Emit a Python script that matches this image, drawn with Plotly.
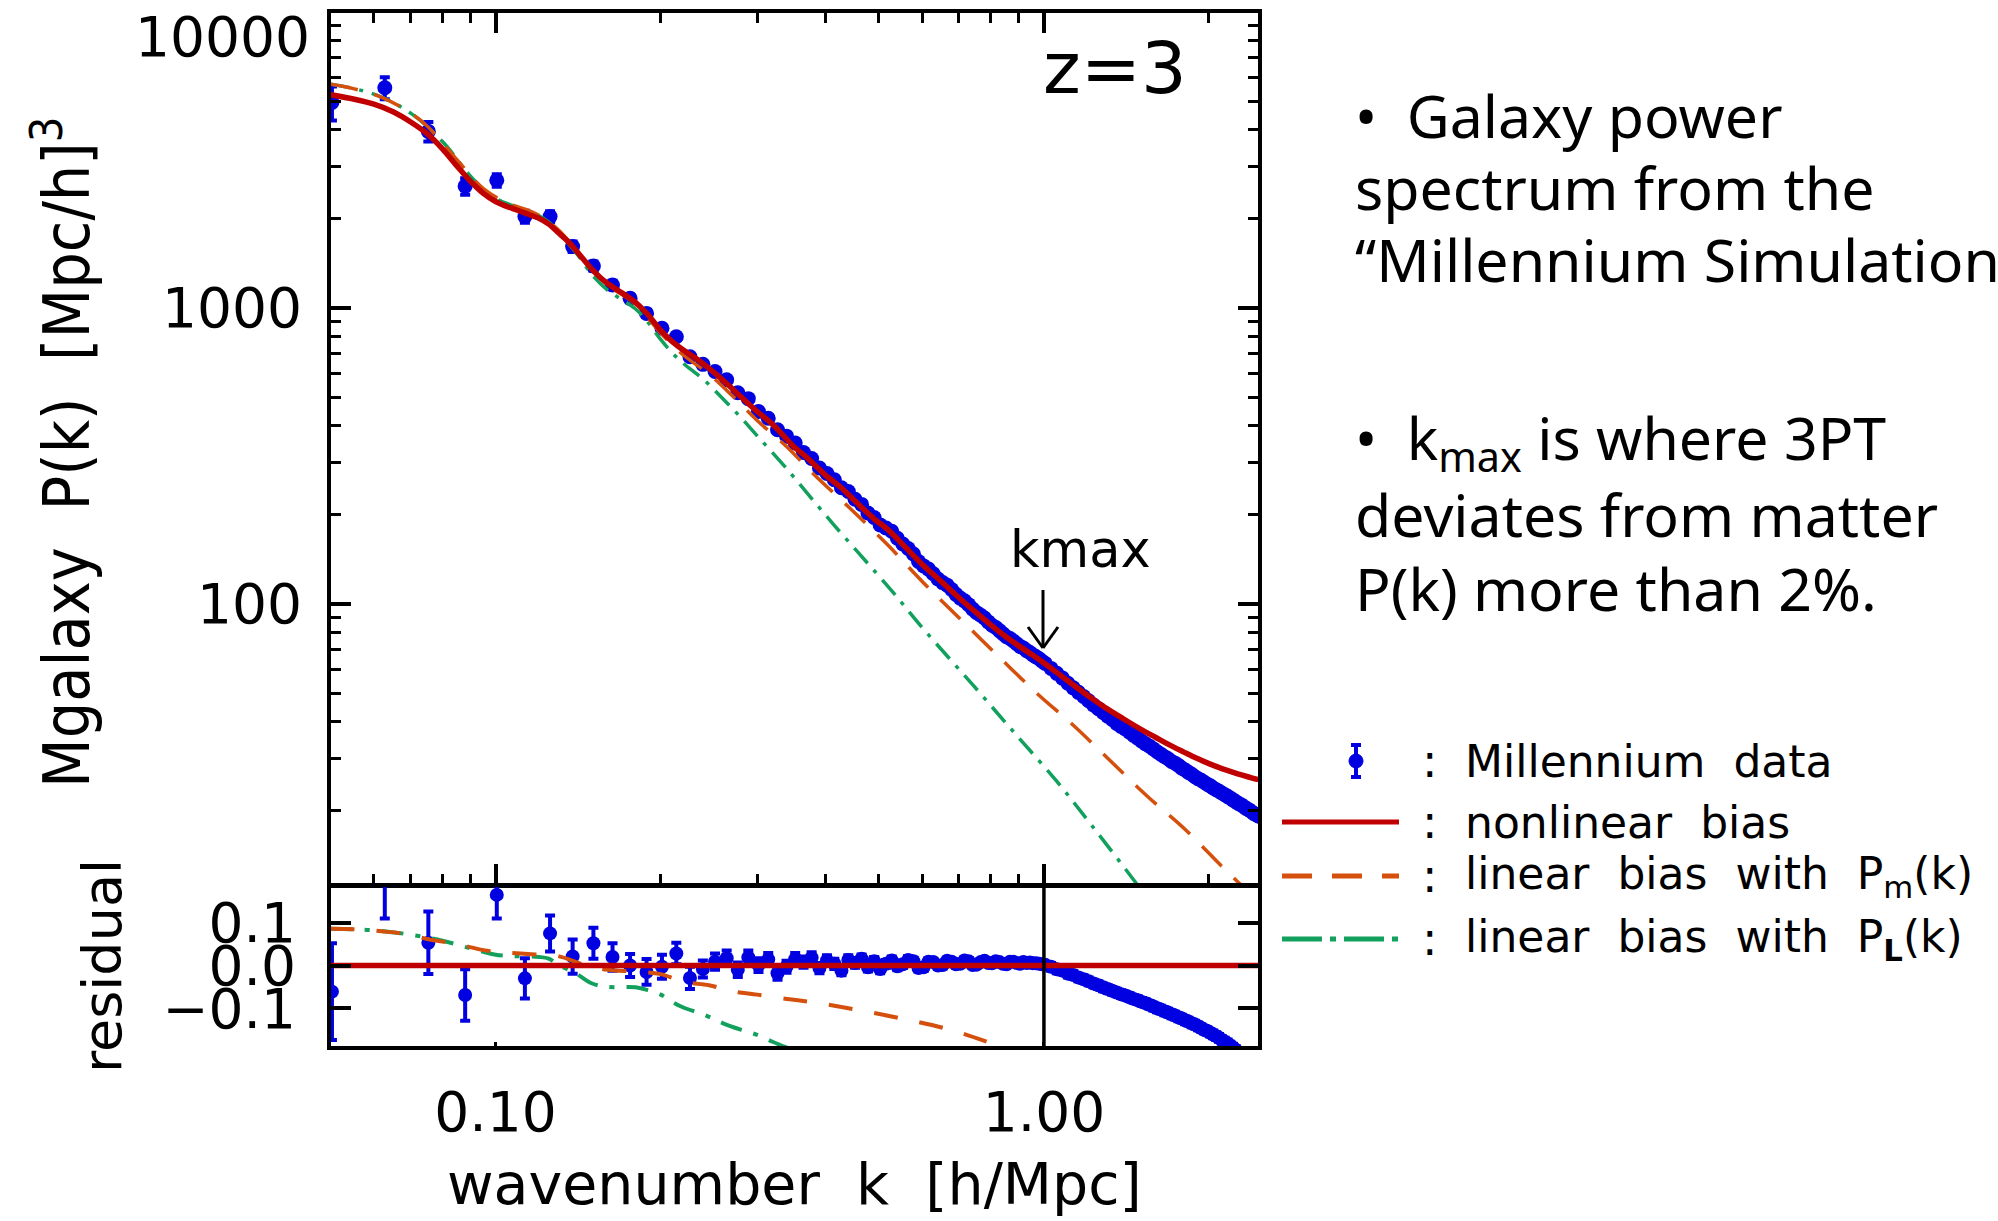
import math
import plotly.graph_objects as go

# ---------------- data ----------------
# Millennium galaxy power spectrum bins, k in h/Mpc
K_DATA = [
    0.0503, 0.0628, 0.0754, 0.0880, 0.1005, 0.1131, 0.1257, 0.1382, 0.1508, 0.1634,
    0.1759, 0.1885, 0.2011, 0.2136, 0.2262, 0.2388, 0.2513, 0.2639, 0.2765, 0.2890,
    0.3016, 0.3142, 0.3267, 0.3393, 0.3519, 0.3644, 0.3770, 0.3896, 0.4021, 0.4147,
    0.4273, 0.4398, 0.4524, 0.4650, 0.4775, 0.4901, 0.5027,
    0.5152, 0.5278, 0.5404, 0.5529, 0.5655, 0.5781, 0.5906, 0.6032, 0.6158, 0.6283,
    0.6409, 0.6535, 0.6660, 0.6786, 0.6912, 0.7037, 0.7163, 0.7288, 0.7414, 0.7540,
    0.7665, 0.7791, 0.7917, 0.8042, 0.8168, 0.8294, 0.8419, 0.8545, 0.8671, 0.8796,
    0.8922, 0.9048, 0.9173, 0.9299, 0.9425, 0.9550, 0.9676, 0.9802, 0.9927, 1.0053,
    1.0304, 1.0556, 1.0807, 1.1058, 1.1310, 1.1561, 1.1812, 1.2064, 1.2315, 1.2566,
    1.2818, 1.3069, 1.3320, 1.3572, 1.3823, 1.4074, 1.4326, 1.4577, 1.4828, 1.5080,
    1.5331, 1.5582, 1.5834, 1.6085, 1.6336, 1.6588, 1.6839, 1.7090, 1.7342, 1.7593,
    1.7844, 1.8096, 1.8347, 1.8598, 1.8850, 1.9101, 1.9352, 1.9604, 1.9855, 2.0106,
    2.0358, 2.0609, 2.0860, 2.1112, 2.1363, 2.1614, 2.1866, 2.2117, 2.2368, 2.2619,
    2.2871, 2.3122, 2.3373, 2.3625, 2.3876, 2.4127, 2.4379, 2.4630,
]
P_DATA = [
    4950, 5550, 3950, 2580, 2700, 2036, 2036, 1612, 1386, 1196,
    1078, 959, 854, 800, 684, 645, 610, 572, 517, 494,
    447, 424, 388, 369, 350, 325, 310, 288, 276, 263,
    247, 240, 226, 217, 203, 196, 185,
    180.7, 176.1, 166.7, 159.5, 154.0, 147.5, 139.2, 134.5, 131.2, 126.5,
    121.5, 118.1, 115.8, 112.0, 107.8, 104.7, 102.5, 99.5, 96.1, 93.5,
    91.7, 89.7, 87.0, 84.8, 83.3, 81.3, 79.3, 77.5, 76.5, 75.0,
    73.4, 71.9, 71.0, 69.6, 68.6, 67.3, 66.3, 65.3, 64.1, 63.0,
    60.6, 58.3, 56.2, 54.0, 52.1, 50.3, 48.7, 47.1, 45.6, 44.3,
    43.0, 41.8, 40.7, 39.5, 38.6, 37.8, 36.9, 36.0, 35.2, 34.4,
    33.7, 33.1, 32.4, 31.7, 31.1, 30.5, 30.0, 29.4, 29.0, 28.5,
    27.9, 27.5, 27.0, 26.6, 26.1, 25.7, 25.4, 25.0, 24.6, 24.3,
    23.9, 23.6, 23.3, 23.0, 22.7, 22.4, 22.1, 21.8, 21.5, 21.2,
    21.0, 20.7, 20.4, 20.2, 19.9, 19.6, 19.4, 19.2,
]
P_ERR = [
    650, 475, 300, 165, 130, 95, 85, 65, 50, 40,
    32, 27, 23, 20, 17, 12.9, 11.6, 10.3, 8.8, 7.9,
    7.2, 6.4, 5.8, 5.2, 4.9, 4.2, 4.0, 3.5, 3.3, 3.2,
    2.7, 2.6, 2.5, 2.2, 2.0, 2.0, 1.9,
    1.6, 1.6, 1.5, 1.4, 1.4, 1.2, 1.1, 1.1, 1.0, 1.0,
    1.0, 0.9, 0.8, 0.8, 0.8, 0.7, 0.7, 0.7, 0.6, 0.6,
    0.6, 0.5, 0.5, 0.5, 0.5, 0.4, 0.4, 0.4, 0.4, 0.4,
    0.4, 0.4, 0.3, 0.3, 0.3, 0.3, 0.3, 0.3, 0.3, 0.3,
] + [0.6] * 10 + [0.45] * 15 + [0.32] * 15 + [0.24] * 18
# fractional residual of the data with respect to the nonlinear-bias model
RES_DATA = [
    -0.061, 0.210, 0.053, -0.069, 0.165, -0.030, 0.075, 0.021, 0.052, 0.020,
    0.000, -0.015, -0.003, 0.028, -0.029, -0.008, 0.009, 0.017, -0.010, 0.019,
    0.001, 0.014, -0.018, -0.003, 0.015, 0.008, 0.018, -0.006, 0.012, 0.004,
    -0.012, 0.013, 0.006, 0.016, -0.004, 0.010, -0.008,
    0.004, 0.012, -0.002, 0.003, 0.013, 0.010, -0.006, -0.004, 0.009, 0.008,
    0.000, 0.001, 0.011, 0.009, 0.003, 0.004, 0.012, 0.010, 0.001, 0.002,
    0.008, 0.011, 0.006, 0.005, 0.010, 0.008, 0.004, 0.003, 0.009, 0.009,
    0.006, 0.004, 0.008, 0.006, 0.007, 0.005, 0.005, 0.004, 0.003, 0.002,
    -0.003, -0.009, -0.012, -0.019, -0.022, -0.028, -0.032, -0.037, -0.042, -0.046,
    -0.051, -0.055, -0.059, -0.063, -0.067, -0.070, -0.074, -0.078, -0.081, -0.085,
    -0.088, -0.092, -0.096, -0.100, -0.103, -0.107, -0.110, -0.114, -0.117, -0.121,
    -0.124, -0.128, -0.131, -0.135, -0.138, -0.142, -0.146, -0.150, -0.153, -0.157,
    -0.161, -0.165, -0.169, -0.174, -0.178, -0.182, -0.187, -0.192, -0.197, -0.203,
    -0.208, -0.214, -0.219, -0.225, -0.230, -0.236, -0.241, -0.247,
]
RES_ERR = [
    0.113, 0.100, 0.073, 0.060, 0.055, 0.047, 0.042, 0.040, 0.036, 0.032,
    0.027, 0.030, 0.028, 0.025, 0.026, 0.020, 0.019, 0.018, 0.017, 0.016,
    0.016, 0.015, 0.015, 0.014, 0.014, 0.013, 0.013, 0.012, 0.012, 0.012,
    0.011, 0.011, 0.011, 0.010, 0.010, 0.010, 0.010,
    0.009, 0.009, 0.009, 0.009, 0.009, 0.008, 0.008, 0.008, 0.008, 0.008,
    0.008, 0.008, 0.007, 0.007, 0.007, 0.007, 0.007, 0.007, 0.006, 0.006,
    0.006, 0.006, 0.006, 0.006, 0.006, 0.005, 0.005, 0.005, 0.005, 0.005,
    0.005, 0.005, 0.004, 0.004, 0.004, 0.004, 0.004, 0.004, 0.004, 0.004,
] + [0.009] * 58

# nonlinear bias model
NL_K = [0.050, 0.055, 0.060, 0.065, 0.070, 0.075, 0.080, 0.085, 0.090, 0.095,
        0.100, 0.105, 0.110, 0.115, 0.120, 0.125, 0.130, 0.135, 0.140, 0.145,
        0.150, 0.155, 0.160, 0.165, 0.170, 0.175, 0.180, 0.185, 0.190, 0.195,
        0.200, 0.210, 0.220, 0.230, 0.240, 0.260, 0.280, 0.300, 0.320, 0.350,
        0.370, 0.400, 0.425, 0.450, 0.490, 0.520, 0.560, 0.600, 0.650, 0.700,
        0.750, 0.800, 0.850, 0.900, 0.950, 1.000, 1.100, 1.200, 1.300, 1.400,
        1.500, 1.600, 1.700, 1.800, 1.900, 2.000, 2.100, 2.200, 2.300, 2.400, 2.460]
NL_P = [5250, 5080, 4880, 4600, 4250, 3880, 3450, 3020, 2680, 2440,
        2290, 2200, 2135, 2070, 2010, 1920, 1800, 1690, 1570, 1452,
        1350, 1270, 1210, 1165, 1125, 1085, 1045, 995, 945, 890,
        840, 770, 721, 683, 645, 570, 502, 447, 405, 340,
        312, 272, 249, 225, 194, 178, 155, 136, 119, 105,
        94, 85, 77.8, 72.2, 67.5, 63.2, 55.4, 49.2, 44.4, 40.8,
        37.8, 35.4, 33.3, 31.6, 30.1, 28.9, 27.9, 27.1, 26.4, 25.8, 25.5]

# linear bias with the nonlinear matter spectrum P_m(k)
LBM_K = [0.050, 0.055, 0.062, 0.070, 0.075, 0.085, 0.095, 0.105, 0.118, 0.130,
         0.145, 0.160, 0.180, 0.200, 0.220, 0.245, 0.270, 0.300, 0.340, 0.380,
         0.440, 0.516, 0.604, 0.706, 0.828, 0.970, 1.130, 1.310, 1.540, 1.810,
         2.110, 2.270, 2.460]
LBM_P = [5700, 5510, 5150, 4555, 4120, 3170, 2530, 2265, 2090, 1840,
         1455, 1198, 1030, 823, 694, 598, 506, 417, 339, 275,
         213, 160, 117.6, 88.5, 66.3, 50.0, 39.0, 30.0, 22.5, 17.3,
         13.0, 11.4, 9.9]

# linear bias with the linear spectrum P_L(k)
LBL_K = [0.050, 0.060, 0.070, 0.080, 0.090, 0.095, 0.100, 0.108, 0.120, 0.125,
         0.130, 0.140, 0.150, 0.160, 0.180, 0.190, 0.200, 0.210, 0.220, 0.240,
         0.260, 0.279, 0.300, 0.337, 0.412, 0.526, 0.609, 0.742, 0.887, 1.055,
         1.227, 1.450, 1.600]
LBL_P = [5700, 5280, 4555, 3650, 2787, 2518, 2347, 2208, 2050, 1951,
         1804, 1542, 1293, 1150, 992, 890, 783, 705, 650, 571,
         493, 430, 370, 291, 187, 111.6, 80.6, 53.3, 36.4, 25.2,
         17.7, 11.85, 9.3]

# residuals of the two linear-bias models
LBM_RES_K = [0.050, 0.055, 0.062, 0.070, 0.075, 0.085, 0.095, 0.105, 0.118, 0.130,
             0.145, 0.160, 0.180, 0.200, 0.220, 0.245, 0.270, 0.300, 0.340, 0.380,
             0.440, 0.546, 0.674, 0.807, 0.900]
LBM_RES = [0.086, 0.085, 0.080, 0.072, 0.062, 0.050, 0.036, 0.030, 0.026, 0.022,
           0.002, -0.010, -0.014, -0.020, -0.038, -0.046, -0.060, -0.068, -0.078, -0.086,
           -0.100, -0.123, -0.150, -0.183, -0.205]
LBL_RES_K = [0.050, 0.060, 0.070, 0.080, 0.090, 0.095, 0.100, 0.108, 0.120, 0.125,
             0.130, 0.140, 0.150, 0.160, 0.180, 0.190, 0.200, 0.210, 0.220, 0.240,
             0.260, 0.280, 0.300, 0.320, 0.340]
LBL_RES = [0.086, 0.082, 0.072, 0.058, 0.040, 0.032, 0.025, 0.022, 0.020, 0.016,
           0.002, -0.018, -0.042, -0.050, -0.051, -0.058, -0.068, -0.085, -0.098, -0.115,
           -0.135, -0.150, -0.162, -0.178, -0.192]

K_RANGE = [0.0501, 2.457]
K_MAX = 1.0
X_TICKS = [0.1, 1.0]
X_TICK_TEXT = ["0.10", "1.00"]
X_MINOR = [0.06, 0.07, 0.08, 0.09, 0.2, 0.3, 0.4, 0.5, 0.6, 0.7, 0.8, 0.9, 2.0]
Y_TICKS = [100, 1000]
Y_TICK_TEXT = ["100", "1000"]
Y_MINOR = [20, 30, 40, 50, 60, 70, 80, 90,
           200, 300, 400, 500, 600, 700, 800, 900,
           2000, 3000, 4000, 5000, 6000, 7000, 8000, 9000]
RES_TICKS = [-0.1, 0.0, 0.1]
RES_TICK_TEXT = ["\u22120.1", "0.0", "0.1"]
RES_RANGE = [-0.188, 0.1834]

# ---------------- styling ----------------
W, H = 1998, 1221
BLUE = "#0000E0"
RED = "#C00000"
ORANGE = "#D4500C"
GREEN = "#12A15C"
FONT = "DejaVu Sans"
TEXT_FONT = "Noto Sans"


def px(x):
    return x / W


def py(y):
    return 1 - y / H


LOGK = [math.log10(K_RANGE[0]), math.log10(K_RANGE[1])]
LOGP = [1.0541, 3.9966]

fig = go.Figure()

err_main = dict(type="data", array=P_ERR, color=BLUE, thickness=4, width=5)
err_res = dict(type="data", array=RES_ERR, color=BLUE, thickness=4, width=5)

# main panel
fig.add_trace(go.Scatter(x=K_DATA, y=P_DATA, mode="markers", error_y=err_main,
                         marker=dict(color=BLUE, size=15, line=dict(width=0)),
                         xaxis="x", yaxis="y", showlegend=False))
fig.add_trace(go.Scatter(x=LBL_K, y=LBL_P, mode="lines",
                         line=dict(color=GREEN, width=3.5, dash="20px,9px,4px,9px", shape="spline"),
                         xaxis="x", yaxis="y", showlegend=False))
fig.add_trace(go.Scatter(x=LBM_K, y=LBM_P, mode="lines",
                         line=dict(color=ORANGE, width=3.5, dash="28px,17px", shape="spline"),
                         xaxis="x", yaxis="y", showlegend=False))
fig.add_trace(go.Scatter(x=NL_K, y=NL_P, mode="lines",
                         line=dict(color=RED, width=5.5, shape="spline", smoothing=0.8),
                         xaxis="x", yaxis="y", showlegend=False))

# residual panel
fig.add_trace(go.Scatter(x=K_DATA, y=RES_DATA, mode="markers", error_y=err_res,
                         marker=dict(color=BLUE, size=14, line=dict(width=0)),
                         xaxis="x2", yaxis="y2", showlegend=False))
fig.add_trace(go.Scatter(x=LBL_RES_K, y=LBL_RES, mode="lines",
                         line=dict(color=GREEN, width=4, dash="22px,12px,5px,12px", shape="spline"),
                         xaxis="x2", yaxis="y2", showlegend=False))
fig.add_trace(go.Scatter(x=LBM_RES_K, y=LBM_RES, mode="lines",
                         line=dict(color=ORANGE, width=4, dash="24px,22px", shape="spline"),
                         xaxis="x2", yaxis="y2", showlegend=False))
fig.add_trace(go.Scatter(x=K_RANGE, y=[0, 0], mode="lines",
                         line=dict(color=RED, width=5.5),
                         xaxis="x2", yaxis="y2", showlegend=False))
fig.add_trace(go.Scatter(x=[K_MAX, K_MAX], y=RES_RANGE, mode="lines",
                         line=dict(color="black", width=3.5),
                         xaxis="x2", yaxis="y2", showlegend=False))

tickfont = dict(family=FONT, size=55, color="black")
x_dom = [px(331), px(1258)]

axis_common = dict(showgrid=False, zeroline=False, showline=True, linecolor="black",
                   linewidth=4, ticks="inside", tickcolor="black")

fig.update_layout(
    width=W, height=H,
    margin=dict(l=0, r=0, t=0, b=0),
    paper_bgcolor="white", plot_bgcolor="rgba(0,0,0,0)",
    showlegend=False,
    xaxis=dict(type="log", range=LOGK, domain=x_dom, anchor="y", mirror="ticks",
               tickvals=X_TICKS, showticklabels=False, ticklen=20, tickwidth=4,
               minor=dict(tickvals=X_MINOR, ticks="inside", ticklen=10, tickwidth=3,
                          tickcolor="black", showgrid=False),
               **axis_common),
    yaxis=dict(type="log", range=LOGP, domain=[py(884), py(13)], anchor="x", mirror="ticks",
               tickvals=Y_TICKS, ticktext=Y_TICK_TEXT, tickfont=tickfont,
               ticklen=20, tickwidth=4, ticklabelstandoff=14,
               minor=dict(tickvals=Y_MINOR, ticks="inside", ticklen=10, tickwidth=3,
                          tickcolor="black", showgrid=False),
               **axis_common),
    xaxis2=dict(type="log", range=LOGK, domain=x_dom, anchor="y2", mirror=True,
                tickvals=X_TICKS, ticktext=X_TICK_TEXT, tickfont=tickfont,
                ticklen=4, tickwidth=3, ticklabelstandoff=15,
                **axis_common),
    yaxis2=dict(range=RES_RANGE, domain=[py(1046), py(887)], anchor="x2", mirror="ticks",
                tickvals=RES_TICKS, ticktext=RES_TICK_TEXT, tickfont=tickfont,
                ticklen=20, tickwidth=4, ticklabelstandoff=20,
                **axis_common),
)

ann = []


def text(x, y, s, size, family=FONT, xanchor="center", angle=0):
    ann.append(dict(x=px(x), y=py(y), xref="paper", yref="paper", text=s, showarrow=False,
                    xanchor=xanchor, yanchor="middle", textangle=angle,
                    font=dict(family=family, size=size, color="black")))


# axis titles and panel labels
text(312, 37, "10000", 55, xanchor="right")
text(62, 453, "Mgalaxy\u00a0\u00a0P(k)\u00a0\u00a0[Mpc/h]<sup>3</sup>", 64,
     family="DejaVu Sans Condensed, DejaVu Sans", angle=-90)
text(102, 966, "residual", 54, angle=-90)
text(794, 1184, "wavenumber\u00a0\u00a0k\u00a0\u00a0[h/Mpc]", 57)
text(1115, 68, "z=3", 72)
text(1080, 549, "kmax", 51)

# legend text
LEG_X = 1463
rows = [(761, "Millennium\u00a0\u00a0data"), (822, "nonlinear\u00a0\u00a0bias"),
        (876, "linear\u00a0\u00a0bias\u00a0\u00a0with\u00a0\u00a0P<sub>m</sub>(k)"),
        (939, "linear\u00a0\u00a0bias\u00a0\u00a0with\u00a0\u00a0P<sub><b>L</b></sub>(k)")]
for y, s in rows:
    text(1430, y, ":", 46)
    text(LEG_X, y, s, 44, xanchor="left")

# side notes
notes = [(115, "\u2022\u2002Galaxy power"), (187, "spectrum from the"),
         (259, "\u201cMillennium Simulation\u201d"),
         (440, "\u2022\u2002k<sub>max</sub> is where 3PT"), (514, "deviates from matter"),
         (588, "P(k) more than 2%.")]
for y, s in notes:
    text(1353, y, s, 59, family=TEXT_FONT, xanchor="left")

fig.update_layout(annotations=ann)

shapes = []


def seg(x0, y0, x1, y1, color, width, dash="solid"):
    shapes.append(dict(type="line", xref="paper", yref="paper",
                       x0=px(x0), y0=py(y0), x1=px(x1), y1=py(y1),
                       line=dict(color=color, width=width, dash=dash)))


# kmax arrow
seg(1043, 590, 1043, 648, "black", 3)
seg(1028, 627, 1043, 648, "black", 3)
seg(1058, 627, 1043, 648, "black", 3)

# legend keys
seg(1356, 745, 1356, 777, BLUE, 4)
seg(1351, 745, 1361, 745, BLUE, 4)
seg(1351, 777, 1361, 777, BLUE, 4)
shapes.append(dict(type="circle", xref="paper", yref="paper",
                   x0=px(1349), x1=px(1363), y0=py(754), y1=py(768),
                   fillcolor=BLUE, line=dict(color=BLUE, width=1)))
seg(1282, 822, 1399, 822, RED, 5)
seg(1282, 876, 1399, 876, ORANGE, 5, "30px,20px")
seg(1282, 939, 1399, 939, GREEN, 5, "40px,8px,6px,8px")

fig.update_layout(shapes=shapes)

fig.write_html("out.html")
